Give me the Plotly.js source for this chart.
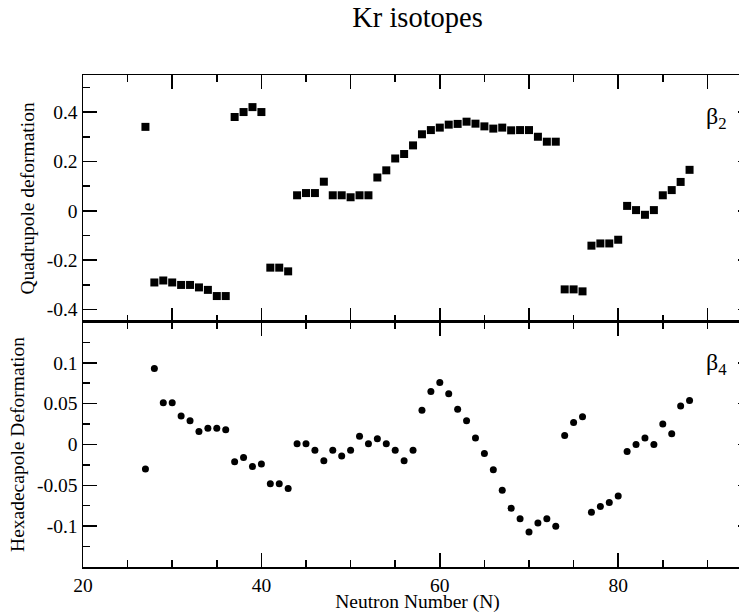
<!DOCTYPE html>
<html>
<head>
<meta charset="utf-8">
<script src="https://cdn.plot.ly/plotly-3.0.1.min.js"></script>
<style>
html,body{margin:0;padding:0;overflow:hidden;width:739px;height:613px;background:#fff}
#chart{width:756px;height:613px}
</style>
</head>
<body>
<div id="chart"></div>
<script>
// Neutron numbers
var neutronN = [27,28,29,30,31,32,33,34,35,36,37,38,39,40,41,42,43,44,45,46,47,48,49,50,51,52,53,54,55,56,57,58,
  59,60,61,62,63,64,65,66,67,68,69,70,71,72,73,74,75,76,77,78,79,80,81,82,83,84,85,86,87,88];

// Quadrupole deformation beta2
var beta2 = [0.34,-0.29,-0.282,-0.29,-0.30,-0.30,-0.31,-0.32,-0.345,-0.345,0.38,0.40,0.42,0.40,-0.23,-0.23,-0.245,
  0.063,0.072,0.072,0.118,0.063,0.063,0.055,0.063,0.063,0.135,0.164,0.212,0.23,0.265,0.31,0.327,0.337,0.349,0.352,
  0.361,0.353,0.342,0.333,0.337,0.326,0.327,0.327,0.30,0.28,0.28,-0.318,-0.318,-0.326,-0.141,-0.132,-0.132,-0.117,
  0.02,0.003,-0.016,0.003,0.063,0.084,0.117,0.166];

// Hexadecapole deformation beta4
var beta4 = [-0.030,0.093,0.051,0.051,0.035,0.029,0.016,0.020,0.020,0.018,-0.021,-0.016,-0.027,-0.024,-0.048,-0.048,
  -0.054,0.001,0.001,-0.007,-0.020,-0.007,-0.014,-0.007,0.010,0.001,0.007,0.001,-0.007,-0.020,-0.007,0.042,0.065,
  0.076,0.062,0.043,0.029,0.008,-0.011,-0.031,-0.056,-0.078,-0.091,-0.107,-0.096,-0.091,-0.100,0.011,0.027,0.034,
  -0.083,-0.076,-0.071,-0.063,-0.0085,0.000,0.008,0.000,0.025,0.013,0.047,0.054];

// Tick labels / positions
var xLabelVals = [20,40,60,80];
var xLabelText = ['20','40','60','80'];
var xUnlabeledMajor = [30,50,70,90];
var xAllMajor = [20,30,40,50,60,70,80,90];
var b2TickVals = [-0.4,-0.2,0,0.2,0.4];
var b2TickText = ['-0.4','-0.2','0','0.2','0.4'];
var b4TickVals = [-0.1,-0.05,0,0.05,0.1];
var b4TickText = ['-0.1','-0.05','0','0.05','0.1'];

var lineW = 1.5;
var FS = 19.5;
function axisBase(extra){
  var a = {
    showline:true, linewidth:lineW, linecolor:'#000', mirror:'allticks',
    ticks:'inside', ticklen:14, tickwidth:lineW, tickcolor:'#000',
    showgrid:false, zeroline:false, tickfont:{size:FS, color:'#000'}
  };
  for (var k in extra) a[k] = extra[k];
  return a;
}
function minorTicks(d){
  return {tickmode:'linear', tick0:0, dtick:d, ticklen:7, ticks:'inside', tickwidth:lineW, tickcolor:'#000'};
}

var traces = [
  {x: neutronN, y: beta2, xaxis:'x2', yaxis:'y2', type:'scatter', mode:'markers',
   marker:{symbol:'square', size:8, color:'#000'}, name:'β2'},
  {x: neutronN, y: beta4, xaxis:'x', yaxis:'y', type:'scatter', mode:'markers',
   marker:{symbol:'circle', size:7, color:'#000'}, name:'β4'}
];

var layout = {
  width:756, height:613,
  margin:{l:83, r:4, t:75, b:46, pad:0},
  paper_bgcolor:'#fff', plot_bgcolor:'#fff',
  showlegend:false,
  font:{family:'Liberation Serif, Times New Roman, serif', size:FS, color:'#000'},
  title:{text:'Kr isotopes', font:{size:28.5, color:'#000'}, xref:'paper', x:0.5, xanchor:'center',
         yref:'container', y:0.972, yanchor:'middle'},
  xaxis: axisBase({domain:[0,1], anchor:'y', range:[20,95], tickmode:'array', tickvals:xLabelVals, ticktext:xLabelText,
    minor:minorTicks(5),
    title:{text:'Neutron Number (N)', font:{size:FS}, standoff:3}}),
  xaxis3: {overlaying:'x', anchor:'y', side:'bottom', matches:'x', range:[20,95], showline:false, mirror:'ticks',
    tickmode:'array', tickvals:xUnlabeledMajor, showticklabels:false, ticks:'inside', ticklen:14, tickwidth:lineW,
    tickcolor:'#000', showgrid:false, zeroline:false},
  xaxis2: axisBase({domain:[0,1], anchor:'y2', range:[20,95], matches:'x', tickmode:'array', tickvals:xAllMajor,
    showticklabels:false, minor:minorTicks(5)}),
  yaxis: axisBase({domain:[0,0.498], anchor:'x', range:[-0.15,0.15], tickmode:'array', tickvals:b4TickVals, ticktext:b4TickText,
    minor:minorTicks(0.025),
    title:{text:'Hexadecapole Deformation', font:{size:FS}, standoff:7}}),
  yaxis2: axisBase({domain:[0.498,1], anchor:'x2', range:[-0.45,0.55], tickmode:'array', tickvals:b2TickVals, ticktext:b2TickText,
    minor:minorTicks(0.1),
    title:{text:'Quadrupole deformation', font:{size:FS}, standoff:7}}),
  annotations:[
    {text:'β<sub>2</sub>', xref:'x2', yref:'y2', x:92.4, y:0.375, xanchor:'right', yanchor:'middle',
     showarrow:false, font:{size:24, color:'#000'}},
    {text:'β<sub>4</sub>', xref:'x', yref:'y', x:92.4, y:0.098, xanchor:'right', yanchor:'middle',
     showarrow:false, font:{size:24, color:'#000'}}
  ]
};

Plotly.newPlot('chart', traces, layout, {staticPlot:true, displayModeBar:false});
</script>
</body>
</html>
